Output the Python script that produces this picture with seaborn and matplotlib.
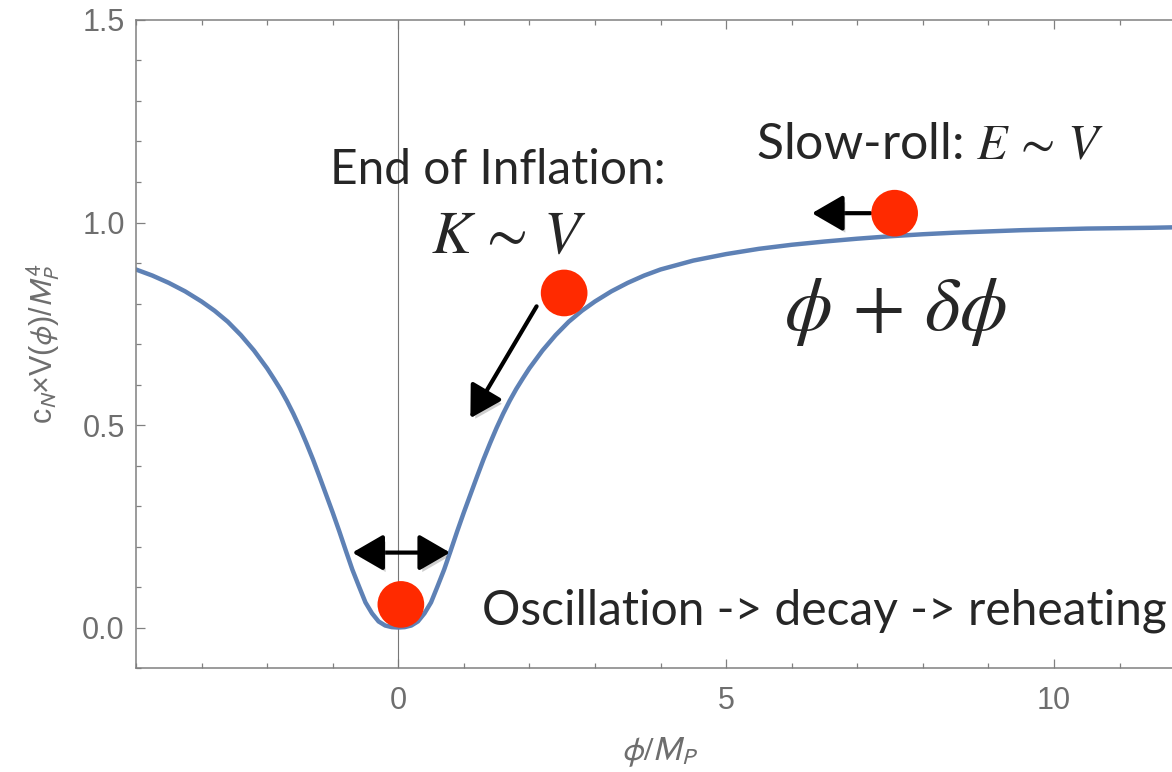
import numpy as np
import pandas as pd
import matplotlib
matplotlib.use("Agg")
import matplotlib.pyplot as plt
import matplotlib.patheffects as pe
from matplotlib.patches import FancyArrowPatch
from matplotlib.ticker import MultipleLocator, FormatStrFormatter
import seaborn as sns

# potential curve
phi = [-4.0, -3.75, -3.5, -3.25, -3.0, -2.8, -2.6, -2.4, -2.2, -2.0, -1.9, -1.8, -1.7,
       -1.6, -1.5, -1.4, -1.3, -1.2, -1.1, -1.0, -0.9, -0.8, -0.7, -0.6, -0.5, -0.4,
       -0.3, -0.2, -0.1, 0.0, 0.1, 0.2, 0.3, 0.4, 0.5, 0.6, 0.7, 0.8, 0.9, 1.0, 1.1,
       1.2, 1.3, 1.4, 1.5, 1.6, 1.7, 1.8, 1.9, 2.0, 2.2, 2.4, 2.6, 2.8, 3.0, 3.25, 3.5,
       3.75, 4.0, 4.5, 5.0, 5.5, 6.0, 6.5, 7.0, 7.5, 8.0, 8.5, 9.0, 9.5, 10.0, 10.5,
       11.0, 11.5, 11.8]
V = [0.884, 0.869, 0.851, 0.830, 0.805, 0.782, 0.755, 0.722, 0.684, 0.640, 0.615, 0.589,
     0.560, 0.528, 0.493, 0.455, 0.415, 0.372, 0.328, 0.284, 0.238, 0.190, 0.143, 0.102,
     0.062, 0.035, 0.015, 0.005, 0.001, 0.000, 0.001, 0.005, 0.015, 0.035, 0.062, 0.102,
     0.143, 0.190, 0.238, 0.284, 0.328, 0.372, 0.415, 0.455, 0.493, 0.528, 0.560, 0.589,
     0.615, 0.640, 0.684, 0.722, 0.755, 0.782, 0.805, 0.830, 0.851, 0.869, 0.884, 0.906,
     0.922, 0.935, 0.945, 0.953, 0.960, 0.966, 0.971, 0.975, 0.978, 0.981, 0.983, 0.985,
     0.986, 0.987, 0.988]

# the three balls
ball_phi = [0.04, 2.53, 7.57]
ball_V = [0.057, 0.826, 1.023]

# arrows (tail -> tip)
arrows = [((-0.70, 0.185), (0.79, 0.185), "<|-|>"),
          ((2.11, 0.793), (1.10, 0.517), "-|>"),
          ((7.20, 1.023), (6.31, 1.023), "-|>")]

curve_color = "#5e81b5"
ball_color = "#ff2a00"
gray = "#6e6e6e"

sns.set_style("ticks")
plt.rcParams["font.family"] = ["Lato", "DejaVu Sans"]

fig = plt.figure(figsize=(11.72, 7.72), dpi=100)
ax = fig.add_axes([0.116, 0.1347, 0.884, 0.8394])

ax.axvline(0, color="#777777", lw=0.8, zorder=1)

df = pd.DataFrame({"phi": phi, "V": V})
sns.lineplot(data=df, x="phi", y="V", ax=ax, color=curve_color, lw=3.2, sort=False,
             estimator=None, zorder=2)
sns.scatterplot(x=ball_phi, y=ball_V, ax=ax, s=1130, color=ball_color,
                edgecolor="none", zorder=5)

shadow = [pe.SimplePatchShadow(offset=(2, -3), shadow_rgbFace="0.45", alpha=0.35), pe.Normal()]
for a, b, style in arrows:
    arr = FancyArrowPatch(a, b, arrowstyle=f"{style},head_length=0.95,head_width=0.55",
                          mutation_scale=20, lw=3.0, color="black", shrinkA=0, shrinkB=0,
                          zorder=4, path_effects=shadow)
    ax.add_patch(arr)

ax.set_xlim(-4, 11.8)
ax.set_ylim(-0.1, 1.5)

txt_size = 34.5
ax.text(1.52, 1.096, "End of Inflation:", fontsize=txt_size, ha="center", va="baseline")
ax.text(1.68, 0.925, r"$K\,\sim\,V$", fontsize=43, ha="center", va="baseline",
        math_fontfamily="stix")
ax.text(8.11, 1.155, r"Slow-roll: $E\,\sim\,V$", fontsize=36, ha="center",
        va="baseline", math_fontfamily="stix")
ax.text(7.58, 0.735, r"$\phi\,+\,\delta\phi$", fontsize=55, ha="center", va="baseline",
        math_fontfamily="stix")
ax.text(1.28, 0.0074, "Oscillation -> decay -> reheating", fontsize=34.5,
        ha="left", va="baseline")

# Mathematica-like frame
for side in ["left", "bottom", "top"]:
    ax.spines[side].set_color("#808080")
    ax.spines[side].set_linewidth(1.1)
ax.spines["right"].set_visible(False)

ax.xaxis.set_major_locator(MultipleLocator(5))
ax.xaxis.set_minor_locator(MultipleLocator(1))
ax.yaxis.set_major_locator(MultipleLocator(0.5))
ax.yaxis.set_minor_locator(MultipleLocator(0.1))
ax.yaxis.set_major_formatter(FormatStrFormatter("%.1f"))
ax.tick_params(which="both", direction="in", top=True, right=False, color="#808080",
               width=0.9, labelsize=22, labelcolor=gray,
               labelfontfamily="Liberation Sans")
ax.tick_params(which="major", length=6.5)
ax.tick_params(which="minor", length=3.8)
ax.tick_params(axis="x", which="major", pad=13)
ax.tick_params(axis="y", which="major", pad=8)

ax.set_xlabel(r"$\phi/M_P$", fontsize=24, color=gray, math_fontfamily="stixsans")
ax.set_ylabel(r"c$_N$×V($\phi$)/$M_P^4$", fontsize=22, color=gray,
              family="Liberation Sans", math_fontfamily="stixsans")
ax.xaxis.set_label_coords(0.506, -0.105)
ax.yaxis.set_label_coords(-0.071, 0.5)

fig.savefig("out.png", dpi=100)
